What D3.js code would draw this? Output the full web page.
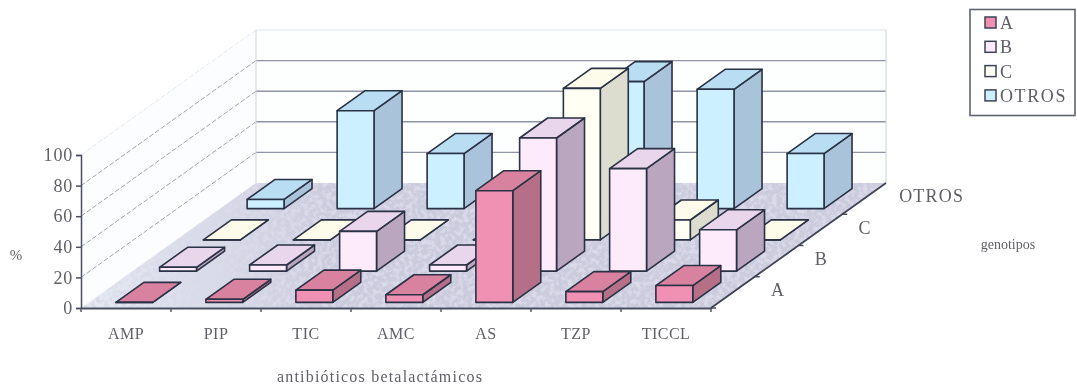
<!DOCTYPE html>
<html>
<head>
<meta charset="utf-8">
<script src="https://d3js.org/d3.v7.min.js"></script>
<style>
html, body {margin: 0; padding: 0; background: #fff; overflow: hidden;}
text {font-family: "Liberation Serif", serif; fill: #5f5f66;}
</style>
</head>
<body>
<svg id="chart" width="1077" height="391"></svg>
<script>
var categories = ["AMP", "PIP", "TIC", "AMC", "AS", "TZP", "TICCL"];
var genotypes = ["A", "B", "C", "OTROS"];
var valuesA = [0, 2, 8, 5, 73, 7, 11];
var valuesB = [2.5, 4, 26, 4, 87, 67, 27];
var valuesC = [0, 0, 0, 0, 99, 13, 0];
var valuesOtros = [6, 64, 36, 0, 83, 78, 36];
var yTicks = [0, 20, 40, 60, 80, 100];

var seriesValues = [valuesA, valuesB, valuesC, valuesOtros];
var faceColors = [
  {front: "#f090b2", top: "#d9829f", side: "#b56f88"},
  {front: "#fdeafb", top: "#e9d6ec", side: "#bba6bf"},
  {front: "#fffff3", top: "#fdfbe9", side: "#dcdccf"},
  {front: "#ccf0ff", top: "#b9def4", side: "#a9c4da"}
];

var svg = d3.select("#chart");

// blur + mottled floor, the original is a scanned picture
var defs = svg.append("defs");
defs.append("filter").attr("id", "soft")
  .attr("filterUnits", "userSpaceOnUse")
  .attr("x", 0).attr("y", 0).attr("width", 1077).attr("height", 391)
  .append("feGaussianBlur").attr("stdDeviation", 0.55);
var noise = defs.append("filter").attr("id", "mottle");
noise.append("feTurbulence").attr("type", "fractalNoise").attr("baseFrequency", 0.22)
  .attr("numOctaves", 2).attr("seed", 4).attr("result", "n");
noise.append("feColorMatrix").attr("in", "n").attr("type", "matrix")
  .attr("values", "0 0 0 0 0.7  0 0 0 0 0.7  0 0 0 0 0.82  4 0 0 0 -1.7").attr("result", "c");
noise.append("feComposite").attr("in", "c").attr("in2", "SourceGraphic").attr("operator", "in").attr("result", "m");
noise.append("feMerge").selectAll("feMergeNode").data(["SourceGraphic", "m"]).enter()
  .append("feMergeNode").attr("in", function(d){return d;});
var floorFade = defs.append("linearGradient").attr("id", "floorFade")
  .attr("gradientUnits", "userSpaceOnUse")
  .attr("x1", 81).attr("x2", 330).attr("y1", 0).attr("y2", 0);
floorFade.append("stop").attr("offset", 0).attr("stop-color", "#e6ebf3");
floorFade.append("stop").attr("offset", 1).attr("stop-color", "#cbcbde");

var root = svg.append("g").attr("filter", "url(#soft)");

var x = d3.scaleBand().domain(categories).range([81, 711]);
var depth = d3.scaleBand().domain(genotypes).range([0, 1]);
var y = d3.scaleLinear().domain([0, 100]).range([308, 155]);

var depthX = 175, depthY = -125;
var wallH = y(0) - y(100);

// floor point -> screen. u is x in px on the front edge, d is 0..1 to the back
function pt(u, d, h) {
  return [u + d * depthX, y(0) + d * depthY - (h || 0)];
}
function path(points) {
  return "M" + points.map(function(p){return p.join(",");}).join("L") + "Z";
}

var x0 = x.range()[0], x1 = x.range()[1];

// white backing so the blur has something to work against
root.append("rect").attr("width", 1077).attr("height", 391).attr("fill", "#fff");

// walls
root.append("path")
  .attr("d", path([pt(x0, 0), pt(x0, 1), pt(x0, 1, wallH), pt(x0, 0, wallH)]))
  .attr("fill", "#fbfdff");
root.append("path")
  .attr("d", path([pt(x0, 1), pt(x1, 1), pt(x1, 1, wallH), pt(x0, 1, wallH)]))
  .attr("fill", "#fdfefe");

yTicks.forEach(function(t) {
  var h = y(0) - y(t);
  if (t > 0) {
    root.append("line")
      .attr("x1", pt(x0, 0, h)[0]).attr("y1", pt(x0, 0, h)[1])
      .attr("x2", pt(x0, 1, h)[0]).attr("y2", pt(x0, 1, h)[1])
      .attr("stroke", t == 100 ? "#e6e8ee" : "#a0a4b0").attr("stroke-width", 1)
      .attr("stroke-dasharray", "5 2");
    root.append("line")
      .attr("x1", pt(x0, 1, h)[0]).attr("y1", pt(x0, 1, h)[1])
      .attr("x2", pt(x1, 1, h)[0]).attr("y2", pt(x1, 1, h)[1])
      .attr("stroke", t == 100 ? "#e2e4ea" : "#8f94a6").attr("stroke-width", t == 100 ? 1 : 1.4);
  }
});
root.append("line")
  .attr("x1", pt(x0, 1)[0]).attr("y1", pt(x0, 1)[1])
  .attr("x2", pt(x0, 1, wallH)[0]).attr("y2", pt(x0, 1, wallH)[1])
  .attr("stroke", "#d0d3db");
root.append("line")
  .attr("x1", pt(x1, 1)[0]).attr("y1", pt(x1, 1)[1])
  .attr("x2", pt(x1, 1, wallH)[0]).attr("y2", pt(x1, 1, wallH)[1])
  .attr("stroke", "#d0d3db");

// floor
root.append("path")
  .attr("d", path([pt(x0, 0), pt(x1, 0), pt(x1, 1), pt(x0, 1)]))
  .attr("fill", "url(#floorFade)")
  .attr("filter", "url(#mottle)");

// bars, back row first so the front rows cover them
var barInset = 0.3, barWidth = 0.41, barDepthStart = 0.18, barDepthEnd = 0.82;
var rows = d3.range(genotypes.length).reverse();

rows.forEach(function(s) {
  var colors = faceColors[s];
  var dA = depth(genotypes[s]) + barDepthStart * depth.bandwidth();
  var dB = depth(genotypes[s]) + barDepthEnd * depth.bandwidth();
  var g = root.append("g").attr("stroke", "#2a3044").attr("stroke-width", 1.6).attr("stroke-linejoin", "round");

  var bars = g.selectAll("g").data(seriesValues[s]).enter().append("g");
  function left(i) {return x(categories[i]) + barInset * x.bandwidth();}
  function right(i) {return left(i) + barWidth * x.bandwidth();}
  function height(v) {return y(0) - y(v);}

  bars.append("path")
    .attr("fill", colors.side)
    .attr("d", function(v, i) {
      return path([pt(right(i), dA), pt(right(i), dB), pt(right(i), dB, height(v)), pt(right(i), dA, height(v))]);
    });
  bars.append("path")
    .attr("fill", colors.top)
    .attr("d", function(v, i) {
      return path([pt(left(i), dA, height(v)), pt(right(i), dA, height(v)), pt(right(i), dB, height(v)), pt(left(i), dB, height(v))]);
    });
  bars.append("path")
    .attr("fill", colors.front)
    .attr("d", function(v, i) {
      return path([pt(left(i), dA), pt(right(i), dA), pt(right(i), dA, height(v)), pt(left(i), dA, height(v))]);
    });
});

// y axis
var yAxis = root.append("g").attr("transform", "translate(" + x0 + ",0)")
  .call(d3.axisLeft(y).tickValues(yTicks).tickSize(5).tickPadding(3));
yAxis.selectAll("path, line").attr("stroke", "#4a5060").attr("stroke-width", 1.5);
yAxis.selectAll("text").style("font-family", "Liberation Serif").style("font-size", "18px")
  .style("letter-spacing", "0.8px").attr("fill", "#5f5f66");

// category axis, ticks sit on the cell edges so only labels come from the axis
var xAxis = root.append("g").attr("transform", "translate(0," + y(0) + ")")
  .call(d3.axisBottom(x).tickSize(0).tickPadding(20));
xAxis.select("path").attr("stroke", "#4a5060").attr("stroke-width", 1.8);
xAxis.selectAll("text").style("font-family", "Liberation Serif").style("font-size", "16px")
  .style("letter-spacing", "0.5px").attr("fill", "#5f5f66");
categories.concat(["end"]).forEach(function(c, i) {
  var px = x0 + i * x.bandwidth();
  root.append("line").attr("x1", px).attr("x2", px).attr("y1", y(0)).attr("y2", y(0) + 4)
    .attr("stroke", "#4a5060").attr("stroke-width", 1.4);
});

// depth axis
root.append("line")
  .attr("x1", pt(x1, 0)[0]).attr("y1", pt(x1, 0)[1])
  .attr("x2", pt(x1, 1)[0]).attr("y2", pt(x1, 1)[1])
  .attr("stroke", "#3d4354").attr("stroke-width", 1.8);
genotypes.forEach(function(g, i) {
  var p = pt(x1, depth(g));
  root.append("line").attr("x1", p[0]).attr("y1", p[1]).attr("x2", p[0] + 5).attr("y2", p[1])
    .attr("stroke", "#3d4354").attr("stroke-width", 1.4);
});
var depthLabels = root.append("g").selectAll("text").data(genotypes).enter().append("text")
  .attr("x", function(g) {return pt(x1, depth(g) + depth.bandwidth() / 2)[0] + (g == "OTROS" ? 35 : 38);})
  .attr("y", function(g) {return pt(x1, depth(g) + depth.bandwidth() / 2)[1] + (g == "OTROS" ? 3 : 4);})
  .attr("font-size", 18)
  .attr("letter-spacing", 1.2)
  .text(function(g) {return g;});

// axis titles
root.append("text").attr("x", 16).attr("y", 260).attr("text-anchor", "middle").attr("font-size", 15).text("%");
root.append("text").attr("x", 380).attr("y", 382).attr("text-anchor", "middle").attr("font-size", 16)
  .attr("letter-spacing", 1.2).text("antibióticos betalactámicos");
root.append("text").attr("x", 1008).attr("y", 249).attr("text-anchor", "middle").attr("font-size", 14).text("genotipos");

// legend
root.append("rect").attr("x", 970).attr("y", 9.5).attr("width", 105).attr("height", 106)
  .attr("fill", "#fff").attr("stroke", "#5f6472").attr("stroke-width", 1.6);
var legend = root.append("g").selectAll("g").data(genotypes).enter().append("g")
  .attr("transform", function(g, i) {return "translate(985," + (17 + i * 24.3) + ")";});
legend.append("rect").attr("width", 11).attr("height", 11)
  .attr("fill", function(g, i) {return faceColors[i].front;})
  .attr("stroke", "#3d4354").attr("stroke-width", 1.5);
legend.append("text").attr("x", 15).attr("y", 12).attr("font-size", 18)
  .attr("letter-spacing", 1.6)
  .text(function(g) {return g;});
</script>
</body>
</html>
